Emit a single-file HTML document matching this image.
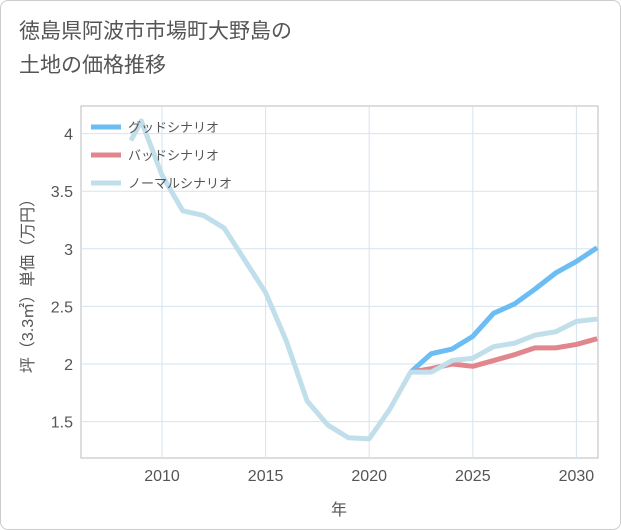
<!DOCTYPE html>
<html><head><meta charset="utf-8"><style>
body{margin:0;background:#fff;font-family:"Liberation Sans","Noto Sans CJK JP",sans-serif}
#wrap{position:relative;width:619px;height:528px;border:1px solid #ccc;border-radius:8px;overflow:hidden}
.title{position:absolute;left:18px;top:14px;font-size:21px;line-height:34px;color:#555}
</style></head><body>
<div id="wrap">
<div class="title">徳島県阿波市市場町大野島の<br>土地の価格推移</div>
<svg id="c" width="621" height="530" style="position:absolute;left:0;top:0"></svg>
</div>
<script>
const years=[2008.5,2009,2010,2011,2012,2013,2014,2015,2016,2017,2018,2019,2020,2021,2022,2023,2024,2025,2026,2027,2028,2029,2030,2031];
const normal=[3.94,4.11,3.64,3.33,3.29,3.18,2.9,2.62,2.2,1.68,1.47,1.36,1.35,1.61,1.93,1.93,2.03,2.05,2.15,2.18,2.25,2.28,2.37,2.39];
const futYears=[2022,2023,2024,2025,2026,2027,2028,2029,2030,2031];
const good=[1.93,2.09,2.13,2.24,2.44,2.52,2.65,2.79,2.89,3.01];
const bad=[1.93,1.96,2.0,1.98,2.03,2.08,2.14,2.14,2.17,2.22];
const xTicks=[2010,2015,2020,2025,2030];
const yTicks=[1.5,2,2.5,3,3.5,4];
const L=80,R=597,T=105,B=457;
const x=v=>161+(v-2010)*20.72;
const y=v=>363-(v-2)*115.2;
const s=document.getElementById('c');const NS='http://www.w3.org/2000/svg';
function mk(t,a,p){const e=document.createElementNS(NS,t);for(const k in a)e.setAttribute(k,a[k]);(p||s).appendChild(e);return e;}
const bg=mk('rect',{x:L,y:T,width:R-L,height:B-T,fill:'#fff',stroke:'#bbb'});

xTicks.forEach(t=>{const l=mk('line',{x1:x(t),x2:x(t),y1:T,y2:B,stroke:'#d5e3ee'});

const tx=mk('text',{x:x(t),y:480,'text-anchor':'middle','font-size':16,fill:'#555'});tx.textContent=t;
});
yTicks.forEach(t=>{const l=mk('line',{x1:L,x2:R,y1:y(t),y2:y(t),stroke:'#d5e3ee'});

const tx=mk('text',{x:72,y:y(t)+6,'text-anchor':'end','font-size':16,fill:'#555'});tx.textContent=t;
});
function line(xs,ys,c,n){const p=mk('polyline',{points:xs.map((v,i)=>x(v)+','+y(ys[i])).join(' '),fill:'none',stroke:c,'stroke-width':5,'stroke-linejoin':'round'});
}
const clip=mk('clipPath',{id:'cp'});mk('rect',{x:L,y:T,width:R-L,height:B-T},clip);
line(futYears,good,'#6bbdf3','good-scenario-line');
line(futYears,bad,'#e0868c','bad-scenario-line');
line(years,normal,'#c0dfeb','normal-scenario-line');
const leg=[['グッドシナリオ','#6bbdf3'],['バッドシナリオ','#e0868c'],['ノーマルシナリオ','#c0dfeb']];
leg.forEach((d,i)=>{const yy=126+i*28;const l=mk('line',{x1:90,x2:120,y1:yy,y2:yy,stroke:d[1],'stroke-width':5});

const t=mk('text',{x:127,y:yy+5,'font-size':13,fill:'#555'});t.textContent=d[0];
});
const xt=mk('text',{x:338,y:514,'text-anchor':'middle','font-size':16,fill:'#555'});xt.textContent='年';

const yt=mk('text',{x:0,y:0,transform:'translate(32,281) rotate(-90)','text-anchor':'middle','font-size':16,fill:'#555'});yt.textContent='坪（3.3㎡）単価（万円）';

</script>
</body></html>
